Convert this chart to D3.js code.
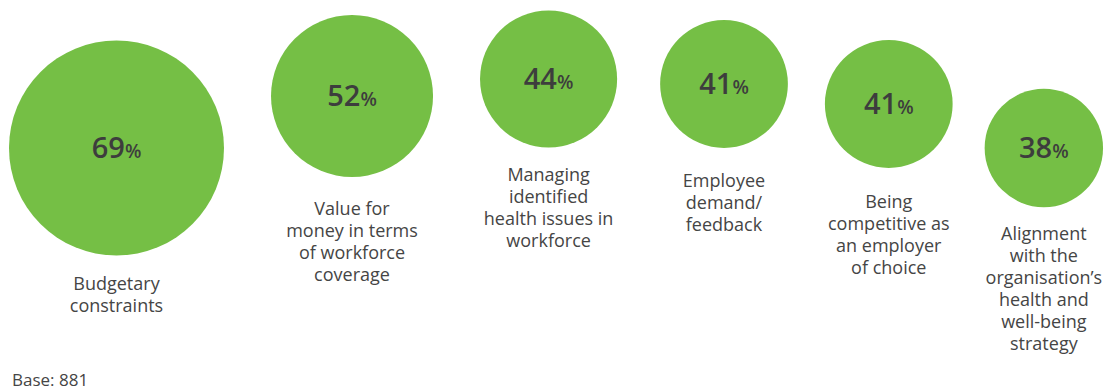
<!DOCTYPE html>
<html>
<head>
<meta charset="utf-8">
<script src="https://cdn.jsdelivr.net/npm/d3@7"></script>
<style>
  html, body { margin: 0; padding: 0; background: #fff; }
  svg { display: block; }
</style>
</head>
<body>
<svg id="chart" width="1112" height="390"></svg>
<script>
// Share of respondents citing each factor (%)
const categories = [
  "Budgetary constraints",
  "Value for money in terms of workforce coverage",
  "Managing identified health issues in workforce",
  "Employee demand/feedback",
  "Being competitive as an employer of choice",
  "Alignment with the organisation’s health and well-being strategy"
];
const values = [69, 52, 44, 41, 41, 38];
const labelLines = [
  ["Budgetary", "constraints"],
  ["Value for", "money in terms", "of workforce", "coverage"],
  ["Managing", "identified", "health issues in", "workforce"],
  ["Employee", "demand/", "feedback"],
  ["Being", "competitive as", "an employer", "of choice"],
  ["Alignment", "with the", "organisation’s", "health and", "well-being", "strategy"]
];
const baseNote = "Base: 881";

// Layout: horizontal gap before each bubble, vertical centre of each bubble,
// and the offset from bubble bottom to the first label baseline
const startX = 9;
const gaps = [0, 47, 47, 43, 37, 32];
const centerY = [148, 96, 79, 84, 104, 148];
const labelOffset = [34, 38, 33, 39, 40, 33];
const lineHeight = 22;

const FONT = "'Open Sans', 'Lato', sans-serif";
const GREEN = "#75bf45";
const TEXT = "#3d3d3d";
const LABEL = "#454545";

const svg = d3.select("#chart");

// Radius grows linearly with the percentage
const r = d3.scaleLinear().domain([0, 69]).range([0, 107.5]);

// Place bubbles side by side, left to right
const nodes = [];
let edge = startX;
values.forEach((v, i) => {
  const rad = r(v);
  const cx = edge + gaps[i] + rad;
  nodes.push({ cat: categories[i], value: v, r: rad, cx, cy: centerY[i], lines: labelLines[i], off: labelOffset[i] });
  edge = cx + rad;
});

const g = svg.selectAll("g.bubble")
  .data(nodes)
  .join("g")
  .attr("class", "bubble");

g.append("circle")
  .attr("cx", d => d.cx)
  .attr("cy", d => d.cy)
  .attr("r", d => d.r)
  .attr("fill", GREEN);

const pct = g.append("text")
  .attr("x", d => d.cx)
  .attr("y", d => d.cy + 10)
  .attr("text-anchor", "middle")
  .attr("fill", TEXT)
  .attr("font-family", FONT)
  .attr("font-weight", 600);
pct.append("tspan")
  .attr("font-size", 29)
  .text(d => d.value);
pct.append("tspan")
  .attr("font-size", 19)
  .text("%");

g.append("text")
  .attr("text-anchor", "middle")
  .attr("fill", LABEL)
  .attr("font-family", FONT)
  .attr("font-size", 18)
  .each(function(d) {
    const t = d3.select(this);
    d.lines.forEach((line, j) => {
      t.append("tspan")
        .attr("x", d.cx)
        .attr("y", d.cy + d.r + d.off + j * lineHeight)
        .text(line);
    });
  });

svg.append("text")
  .attr("x", 12)
  .attr("y", 386)
  .attr("fill", LABEL)
  .attr("font-family", FONT)
  .attr("font-size", 17)
  .text(baseNote);
</script>
</body>
</html>
